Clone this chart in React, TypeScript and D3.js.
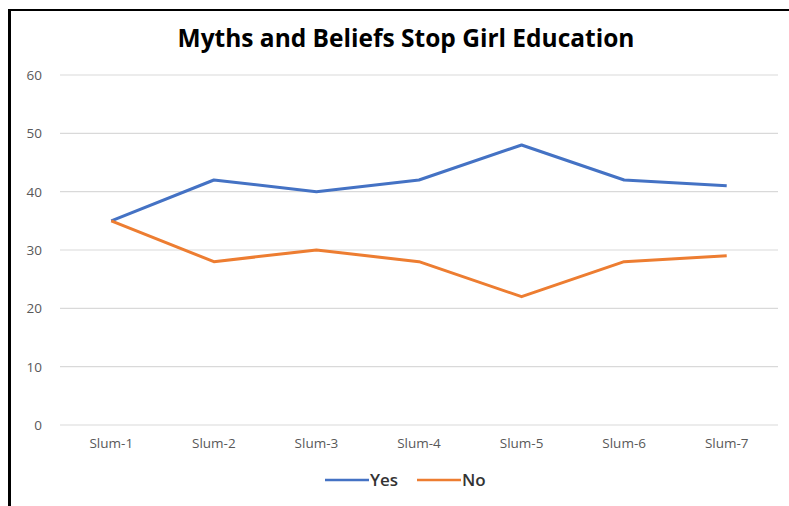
import React from "react";
import * as d3 from "d3";

const categories = ["Slum-1", "Slum-2", "Slum-3", "Slum-4", "Slum-5", "Slum-6", "Slum-7"];
const yesValues = [35, 42, 40, 42, 48, 42, 41];
const noValues = [35, 28, 30, 28, 22, 28, 29];
const yTicks = [0, 10, 20, 30, 40, 50, 60];
const seriesNames = ["Yes", "No"];
const seriesColors = ["#4472C4", "#ED7D31"];

const W = 789;
const H = 506;
const plot = { left: 60, right: 778, top: 75, bottom: 425 };

export default function App() {
  const x = d3
    .scaleBand<string>()
    .domain(categories)
    .range([plot.left, plot.right]);
  const y = d3.scaleLinear().domain([0, 60]).range([plot.bottom, plot.top]);
  const cx = (c: string) => (x(c) ?? 0) + x.bandwidth() / 2;

  const line = d3
    .line<number>()
    .x((_, i) => cx(categories[i]))
    .y((v) => y(v));

  const series = [yesValues, noValues];
  const font = "'Open Sans', sans-serif";

  return (
    <svg
      width={W}
      height={H}
      style={{ position: "absolute", left: 0, top: 0, background: "#fff" }}
      fontFamily={font}
    >
      <rect x={0} y={0} width={W} height={H} fill="#fff" />
      {/* frame: top and left edges */}
      <line x1={8} x2={W} y1={10} y2={10} stroke="#000" strokeWidth={2} />
      <line x1={9.5} x2={9.5} y1={9} y2={H} stroke="#000" strokeWidth={3} />

      <text
        x={406}
        y={47}
        textAnchor="middle"
        fontSize={24.5}
        fontWeight="bold"
        fill="#000"
      >
        Myths and Beliefs Stop Girl Education
      </text>

      {yTicks.map((t) => (
        <g key={t}>
          <line
            x1={plot.left}
            x2={plot.right}
            y1={y(t)}
            y2={y(t)}
            stroke="#d9d9d9"
            strokeWidth={1.2}
          />
          <text
            x={42}
            y={y(t) + 5}
            textAnchor="end"
            fontSize={13.5}
            fill="#595959"
          >
            {t}
          </text>
        </g>
      ))}

      {categories.map((c) => (
        <text
          key={c}
          x={cx(c)}
          y={448}
          textAnchor="middle"
          fontSize={13.5}
          fill="#595959"
        >
          {c}
        </text>
      ))}

      {series.map((s, i) => (
        <path
          key={seriesNames[i]}
          d={line(s) ?? ""}
          fill="none"
          stroke={seriesColors[i]}
          strokeWidth={3}
          strokeLinejoin="round"
        />
      ))}

      {/* legend */}
      {seriesNames.map((name, i) => {
        const lx = i === 0 ? 325 : 417;
        return (
          <g key={name}>
            <line
              x1={lx}
              x2={lx + 44}
              y1={480}
              y2={480}
              stroke={seriesColors[i]}
              strokeWidth={2.5}
            />
            <text
              x={lx + 45}
              y={486}
              fontSize={17}
              fontWeight={600}
              fill="#333"
            >
              {name}
            </text>
          </g>
        );
      })}
    </svg>
  );
}
